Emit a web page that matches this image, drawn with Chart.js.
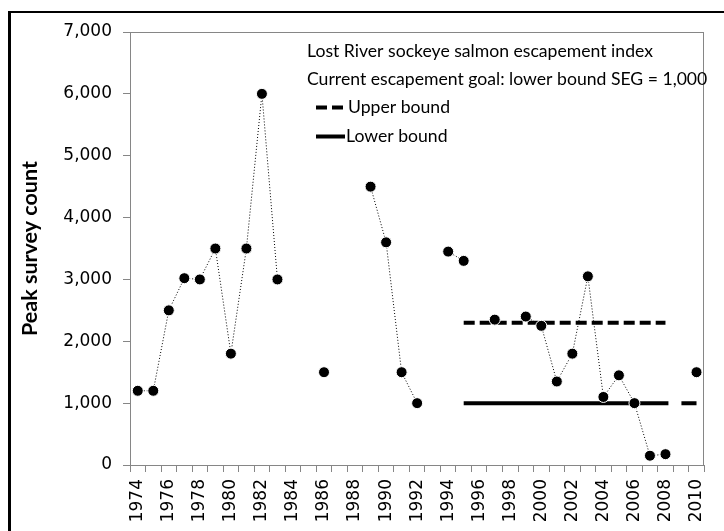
<!DOCTYPE html>
<html>
<head>
<meta charset="utf-8">
<script src="https://cdn.jsdelivr.net/npm/chart.js@4/dist/chart.umd.min.js"></script>
<style>
  html, body { margin: 0; padding: 0; background: #fff; }
  #wrap { position: relative; width: 724px; height: 531px; overflow: hidden; }
  #frame { position: absolute; left: 8px; top: 11px; width: 800px; height: 600px;
           border-left: 3px solid #000; border-top: 2px solid #000; box-sizing: border-box; }
  canvas { position: absolute; left: 0; top: 0; }
</style>
</head>
<body>
<div id="wrap">
  <div id="frame"></div>
  <canvas id="c" width="724" height="531"></canvas>
</div>
<script>
// ---- data ----
const years = ['1974','1975','1976','1977','1978','1979','1980','1981','1982','1983',
               '1984','1985','1986','1987','1988','1989','1990','1991','1992','1993',
               '1994','1995','1996','1997','1998','1999','2000','2001','2002','2003',
               '2004','2005','2006','2007','2008','2009','2010'];
const peakCounts = [1200,1200,2500,3020,3000,3500,1800,3500,6000,3000,
                    null,null,1500,null,null,4500,3600,1500,1000,null,
                    3450,3300,null,2350,null,2400,2250,1350,1800,3050,
                    1100,1450,1000,150,175,null,1500];
const upperBound = [null,null,null,null,null,null,null,null,null,null,
                    null,null,null,null,null,null,null,null,null,null,
                    null,2300,2300,2300,2300,2300,2300,2300,2300,2300,
                    2300,2300,2300,2300,2300,null,null];
const lowerBound = [null,null,null,null,null,null,null,null,null,null,
                    null,null,null,null,null,null,null,null,null,null,
                    null,1000,1000,1000,1000,1000,1000,1000,1000,1000,
                    1000,1000,1000,null,null,null,null];
const lowerBoundTail = [null,null,null,null,null,null,null,null,null,null,
                        null,null,null,null,null,null,null,null,null,null,
                        null,null,null,null,null,null,null,null,null,null,
                        null,null,1000,1000,1000,1000,1000];
const yTickValues = [0,1000,2000,3000,4000,5000,6000,7000];
const xLabelYears = ['1974','1976','1978','1980','1982','1984','1986','1988','1990',
                     '1992','1994','1996','1998','2000','2002','2004','2006','2008','2010'];
const legendTitle1 = 'Lost River sockeye salmon escapement index';
const legendTitle2 = 'Current escapement goal: lower bound SEG = 1,000';
const legendUpper = 'Upper bound';
const legendLower = 'Lower bound';
const yTitle = 'Peak survey count';

// ---- helpers ----
const mctx = document.createElement('canvas').getContext('2d');
function fitSize(text, family, weight, target) {
  mctx.font = weight + ' 100px ' + family;
  return 100 * target / mctx.measureText(text).width;
}
const legFamily = 'Lato, "Open Sans", sans-serif';
const legSize = fitSize(legendTitle1, legFamily, 'normal', 346);
const titleSize = fitSize(yTitle, legFamily, 'bold', 175);
const GRAY = '#868686';

const framePlugin = {
  id: 'plotFrame',
  beforeDatasetsDraw(chart) {
    const a = chart.chartArea, ctx = chart.ctx;
    ctx.save();
    ctx.strokeStyle = GRAY; ctx.lineWidth = 1;
    ctx.strokeRect(Math.round(a.left) + 0.5, Math.round(a.top) + 0.5,
                   Math.round(a.right - a.left) - 1, Math.round(a.bottom - a.top));
    ctx.restore();
  }
};

const legendPlugin = {
  id: 'customLegend',
  afterDraw(chart) {
    const ctx = chart.ctx;
    ctx.save();
    ctx.fillStyle = '#000';
    ctx.font = legSize.toFixed(2) + 'px ' + legFamily;
    ctx.textBaseline = 'alphabetic';
    ctx.textAlign = 'left';
    ctx.fillText(legendTitle1, 307, 57);
    ctx.fillText(legendTitle2, 307, 85);
    ctx.fillText(legendUpper, 348, 113);
    ctx.fillText(legendLower, 346, 142);
    ctx.strokeStyle = '#000';
    ctx.lineWidth = 4;
    ctx.lineCap = 'butt';
    ctx.setLineDash([11, 5]);
    ctx.beginPath(); ctx.moveTo(316, 107.5); ctx.lineTo(343, 107.5); ctx.stroke();
    ctx.setLineDash([]);
    ctx.beginPath(); ctx.moveTo(316, 136.5); ctx.lineTo(345, 136.5); ctx.stroke();
    ctx.restore();
  }
};

new Chart(document.getElementById('c'), {
  type: 'line',
  data: {
    labels: years,
    datasets: [
      {
        label: 'Peak survey count',
        data: peakCounts,
        borderColor: '#000',
        borderWidth: 1,
        borderDash: [1, 2],
        pointRadius: 5.5,
        pointBackgroundColor: '#000',
        pointBorderColor: '#fff',
        pointBorderWidth: 1,
        spanGaps: false,
        tension: 0,
        order: 0
      },
      {
        label: legendUpper,
        data: upperBound,
        borderColor: '#000',
        borderWidth: 4,
        borderDash: [11, 5],
        borderCapStyle: 'butt',
        pointRadius: 0,
        order: 1
      },
      {
        label: legendLower,
        data: lowerBound,
        borderColor: '#000',
        borderWidth: 4,
        pointRadius: 0,
        order: 2
      },
      {
        label: 'Lower bound (tail)',
        data: lowerBoundTail,
        borderColor: '#000',
        borderWidth: 4,
        borderDash: [34, 13],
        borderCapStyle: 'butt',
        pointRadius: 0,
        order: 3
      }
    ]
  },
  options: {
    responsive: false,
    animation: false,
    events: [],
    layout: { padding: { top: 32, right: 5, left: 12, bottom: 0 } },
    plugins: { legend: { display: false }, tooltip: { enabled: false } },
    scales: {
      x: {
        type: 'category',
        offset: true,
        grid: { offset: true, drawOnChartArea: false, drawTicks: true, tickLength: 7,
                color: GRAY },
        border: { color: GRAY, width: 1 },
        ticks: {
          autoSkip: false,
          minRotation: 90, maxRotation: 90,
          padding: 7,
          color: '#000',
          font: { family: '"DejaVu Sans", sans-serif', size: 17 },
          callback: function(v) {
            const lab = this.getLabelForValue(v);
            return xLabelYears.includes(lab) ? lab : '';
          }
        },
        afterFit(scale) { scale.height = 66; }
      },
      y: {
        min: 0, max: 7000,
        grid: { drawOnChartArea: false, drawTicks: true, tickLength: 7, color: GRAY },
        border: { color: GRAY, width: 1 },
        afterBuildTicks(scale) { scale.ticks = yTickValues.map(v => ({ value: v })); },
        ticks: {
          padding: 11,
          color: '#000',
          font: { family: '"DejaVu Sans", sans-serif', size: 17 },
          callback: v => v.toLocaleString('en-US')
        },
        title: {
          display: true,
          text: yTitle,
          color: '#000',
          font: { family: legFamily, weight: 'bold', size: titleSize },
          padding: { top: 5, bottom: 0 }
        },
        afterFit(scale) { scale.width = 118; }
      }
    }
  },
  plugins: [framePlugin, legendPlugin]
});
</script>
</body>
</html>
